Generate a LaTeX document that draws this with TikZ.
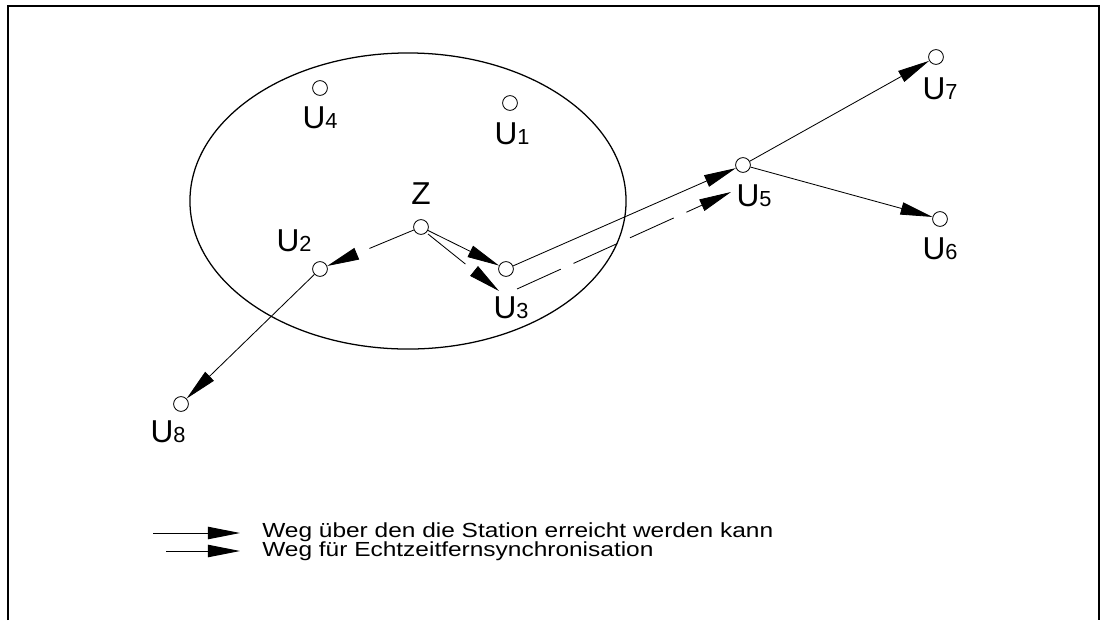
\documentclass[tikz,border=0pt]{standalone}
\usepackage{fontspec}
\usepackage{graphicx}
\setmainfont{Liberation Sans}
\usetikzlibrary{arrows.meta}

% station name with small index
\newcommand{\Ulab}[1]{U{\fontsize{15.5}{18}\selectfont #1}}

\tikzset{
  station/.style={circle, draw, line width=0.6pt, minimum size=0.37cm, inner sep=0pt, fill=white},
  stlabel/.style={font=\fontsize{22.5}{26}\selectfont, inner sep=0pt},
  weg/.style={line width=0.6pt, -{Triangle[length=0.8cm,width=0.31cm]}},
  sync/.style={weg, dash pattern=on 1.2cm off 0.35cm},
  legtext/.style={font=\fontsize{14.5}{17}\selectfont, anchor=west, inner sep=0pt},
}

\begin{document}
\begin{tikzpicture}[x=0.025cm,y=-0.025cm]

\useasboundingbox (0,0) rectangle (1101,620);

% frame, open at the bottom
\draw[line width=1.8pt] (8,620) -- (8,6) -- (1099,6) -- (1099,620);

% reach of the central station
\draw[line width=0.9pt] (408,201) ellipse [x radius=5.45cm, y radius=3.7cm];

% stations
\node[station] (Z)  at (421,227) {};
\node[station] (U1) at (510,103) {};
\node[station] (U2) at (320,269) {};
\node[station] (U3) at (506,269) {};
\node[station] (U4) at (320,88)  {};
\node[station] (U5) at (743,165) {};
\node[station] (U6) at (940,219) {};
\node[station] (U7) at (936,57)  {};
\node[station] (U8) at (181,404) {};

\node[stlabel] (lZ)  at (421,194) {Z};
\node[stlabel] (lU1) at (512,134) {\Ulab{1}};
\node[stlabel] (lU2) at (294,241) {\Ulab{2}};
\node[stlabel] (lU3) at (511,308) {\Ulab{3}};
\node[stlabel] (lU4) at (320,118) {\Ulab{4}};
\node[stlabel] (lU5) at (754,196) {\Ulab{5}};
\node[stlabel] (lU6) at (940,249) {\Ulab{6}};
\node[stlabel] (lU7) at (940,89)  {\Ulab{7}};
\node[stlabel] (lU8) at (168,432) {\Ulab{8}};

% paths
\draw[weg] (Z) -- (U3);
\draw[weg] (U3) -- (U5);
\draw[weg] (U5) -- (U7);
\draw[weg] (U5) -- (U6);
\draw[weg] (U2) -- (U8);

% synchronisation
\coordinate (z3)  at (428,234);
\coordinate (u3a) at (499,291);
\coordinate (u3b) at (517,289);
\coordinate (u5a) at (731,192);
\draw[sync] (Z) -- (U2);
\draw[sync] (z3) -- (u3a);
\draw[sync] (u3b) -- (u5a);

% legend
\coordinate (l1a) at (153,533);
\coordinate (l1b) at (240,533);
\coordinate (l2a) at (166,551);
\coordinate (l2b) at (240,551);
\draw[weg]  (l1a) -- (l1b);
\draw[sync] (l2a) -- (l2b);
\node[legtext] (leg1) at (262,532) {\scalebox{1.2}[1]{Weg über den die Station erreicht werden kann}};
\node[legtext] (leg2) at (262,551) {\scalebox{1.2}[1]{Weg für Echtzeitfernsynchronisation}};

\end{tikzpicture}
\end{document}
